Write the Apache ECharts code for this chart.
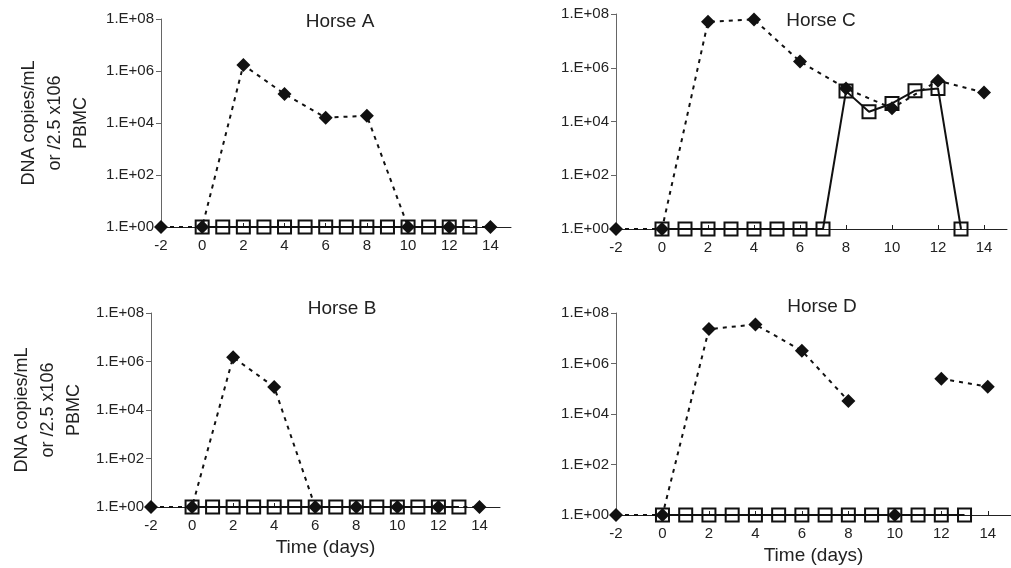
<!DOCTYPE html>
<html>
<head>
<meta charset="utf-8">
<title>Horse A-D</title>
<script src="https://cdn.jsdelivr.net/npm/echarts@6/dist/echarts.min.js"></script>
<style>
  html, body { margin: 0; padding: 0; background: #fff; }
  #chart { width: 1011px; height: 568px; }
</style>
</head>
<body>
<div id="chart"></div>
<script>
// days on the x axis
var diamondDays = [-2, 0, 2, 4, 6, 8, 10, 12, 14];
var squareDays = [0, 1, 2, 3, 4, 5, 6, 7, 8, 9, 10, 11, 12, 13];
var xTicks = [-2, 0, 2, 4, 6, 8, 10, 12, 14];

// DNA copies (1 = not detected, drawn on the 1.E+00 line)
var horseA_diamond = [1, 1, 1.7e6, 1.3e5, 1.6e4, 1.9e4, 1, 1, 1];
var horseA_square  = [1, 1, 1, 1, 1, 1, 1, 1, 1, 1, 1, 1, 1, 1];
var horseB_diamond = [1, 1, 1.5e6, 8.9e4, 1, 1, 1, 1, 1];
var horseB_square  = [1, 1, 1, 1, 1, 1, 1, 1, 1, 1, 1, 1, 1, 1];
var horseC_diamond = [1, 1, 5.1e7, 6.3e7, 1.7e6, 1.7e5, 3.1e4, 3.3e5, 1.2e5];
var horseC_square  = [1, 1, 1, 1, 1, 1, 1, 1, 1.35e5, 2.3e4, 4.7e4, 1.4e5, 1.7e5, 1];
var horseD_diamond = [1, 1, 2.3e7, 3.5e7, 3.2e6, 3.3e4, 1, 2.5e5, 1.2e5];
var horseD_square  = [1, 1, 1, 1, 1, 1, 1, 1, 1, 1, 1, 1, 1, 1];
var horseD_breakAfter = [8, 10]; // line not drawn after these days

var titles = ['Horse A', 'Horse C', 'Horse B', 'Horse D'];

var font = 'Liberation Sans, Arial, sans-serif';
var ink = '#222';

// grid boxes: A, C, B, D
var grids = [
  { left: 161, top: 19, width: 350, height: 208 },
  { left: 616, top: 14, width: 391, height: 215 },
  { left: 151, top: 313, width: 349, height: 194 },
  { left: 616, top: 313, width: 400, height: 202 }
];
var yNameGaps = [67, 0, 64, 0];

function toPoints(days, vals, breaks) {
  var out = [];
  for (var i = 0; i < days.length; i++) {
    out.push([days[i], Math.log10(vals[i])]);
    if (breaks && breaks.indexOf(days[i]) >= 0) out.push([days[i] + 1, '-']);
  }
  return out;
}

var panels = [
  { sq: horseA_square, di: horseA_diamond },
  { sq: horseC_square, di: horseC_diamond },
  { sq: horseB_square, di: horseB_diamond },
  { sq: horseD_square, di: horseD_diamond, br: horseD_breakAfter }
];

var titleCenters = [[335, 7], [816, 6], [337, 294], [817, 292]];

var xAxes = [], yAxes = [], series = [], titleOpts = [];
panels.forEach(function (p, i) {
  var bottomRow = i >= 2;
  var leftCol = i % 2 === 0;
  xAxes.push({
    type: 'value', gridIndex: i, min: -2, max: 15,
    name: bottomRow ? 'Time (days)' : '',
    nameLocation: 'middle', nameGap: 31,
    nameTextStyle: { fontSize: 19, color: ink, fontFamily: font },
    axisLine: { onZero: false, lineStyle: { color: '#222', width: 1 } },
    axisTick: { inside: true, length: 4, customValues: xTicks, lineStyle: { color: '#222' } },
    axisLabel: { customValues: xTicks, fontSize: 15, color: ink, margin: 11, fontFamily: font },
    splitLine: { show: false }
  });
  yAxes.push({
    type: 'value', gridIndex: i, min: 0, max: 8, interval: 2,
    name: leftCol ? 'DNA copies/mL\nor /2.5 x106\nPBMC' : '',
    nameLocation: 'middle', nameRotate: 90, nameGap: yNameGaps[i],
    nameTextStyle: { fontSize: 18, lineHeight: 26, color: ink, fontFamily: font, align: 'center' },
    axisLine: { show: true, onZero: false, lineStyle: { color: '#666', width: 1 } },
    axisTick: { show: true, length: 5, lineStyle: { color: '#666' } },
    axisLabel: {
      fontSize: 15, color: ink, margin: 7, fontFamily: font,
      formatter: function (v) { return '1.E+' + (v < 10 ? '0' : '') + v; }
    },
    splitLine: { show: false }
  });
  series.push({
    type: 'line', xAxisIndex: i, yAxisIndex: i,
    data: toPoints(squareDays, p.sq),
    symbol: 'rect', symbolSize: 13,
    itemStyle: { color: 'rgba(0,0,0,0)', borderColor: '#111', borderWidth: 2 },
    lineStyle: { color: '#111', width: 2, type: 'solid' },
    emphasis: { disabled: true }, z: 3, animation: false
  });
  series.push({
    type: 'line', xAxisIndex: i, yAxisIndex: i,
    data: toPoints(diamondDays, p.di, p.br),
    connectNulls: false,
    symbol: 'diamond', symbolSize: 14,
    itemStyle: { color: '#111' },
    lineStyle: { color: '#111', width: 2, type: [4, 5] },
    emphasis: { disabled: true }, z: 4, animation: false
  });
  titleOpts.push({
    text: titles[i], left: titleCenters[i][0], top: titleCenters[i][1], textAlign: 'center',
    textStyle: { fontSize: 19, fontWeight: 'normal', color: ink, fontFamily: font }
  });
});

var chart = echarts.init(document.getElementById('chart'));
chart.setOption({
  backgroundColor: '#fff',
  animation: false,
  title: titleOpts,
  grid: grids,
  xAxis: xAxes,
  yAxis: yAxes,
  series: series
});
</script>
</body>
</html>
